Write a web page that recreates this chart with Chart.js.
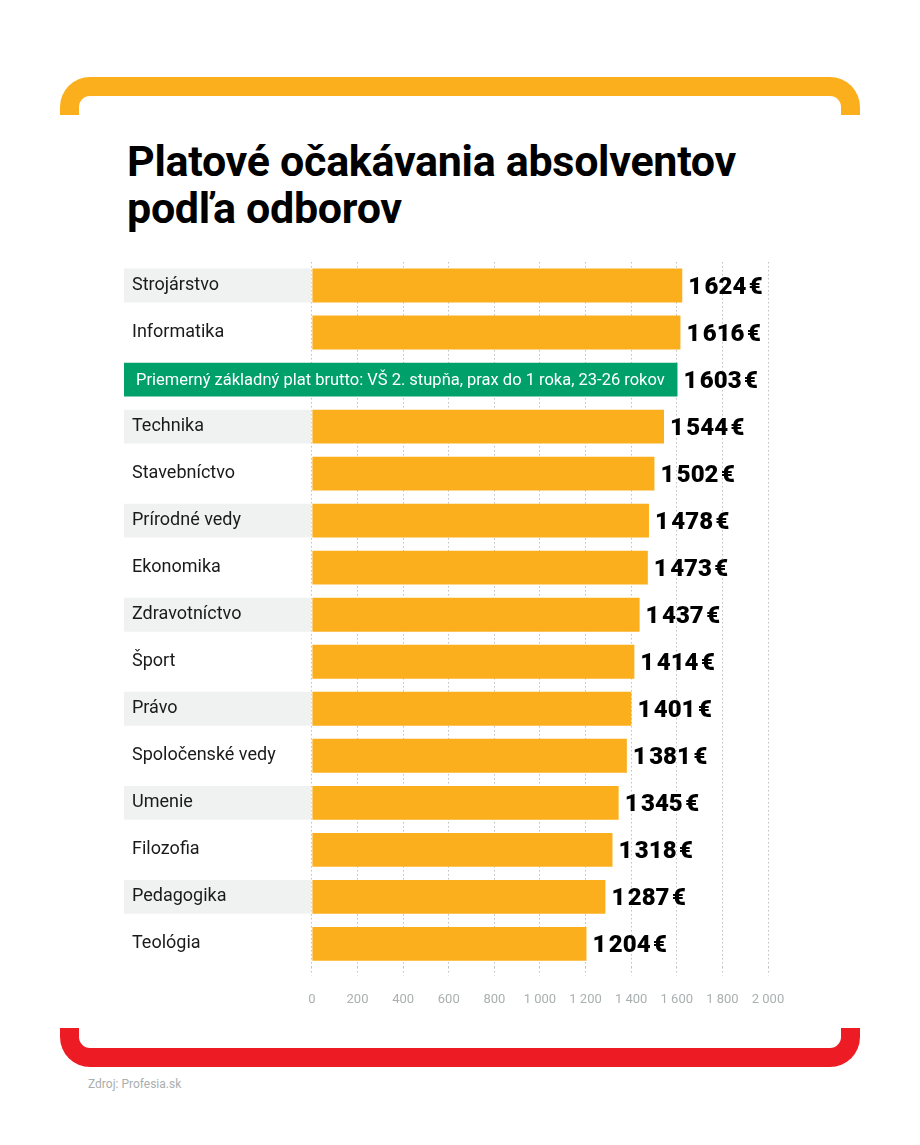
<!DOCTYPE html>
<html lang="sk">
<head>
<meta charset="utf-8">
<script src="https://cdn.jsdelivr.net/npm/chart.js@4.4.1/dist/chart.umd.min.js"></script>
<style>
  html, body { margin: 0; padding: 0; background: #fff; }
  body { width: 920px; height: 1145px; position: relative; overflow: hidden; font-family: Roboto, sans-serif; }
  .ramTop {
    position: absolute; left: 60px; top: 77px; width: 800px; height: 38px;
    border: 19px solid #fcaf1c; border-bottom: 0; border-radius: 30px 30px 0 0; box-sizing: border-box;
  }
  .ramBottom {
    position: absolute; left: 60px; top: 1028px; width: 800px; height: 39px;
    border: 19px solid #ed1c24; border-top: 0; border-radius: 0 0 30px 30px; box-sizing: border-box;
  }
  h1 {
    position: absolute; left: 127px; top: 138px; margin: 0;
    font: 700 43px/47px Roboto, sans-serif; color: #000; letter-spacing: -0.3px;
  }
  .zdroj { position: absolute; left: 88px; top: 1077px; font-size: 12px; color: #a9aeae; }
  #wrap { position: absolute; left: 0; top: 0; width: 920px; height: 1145px; }
</style>
</head>
<body>
<div class="ramTop"></div>
<div class="ramBottom"></div>
<h1>Platové očakávania absolventov<br>podľa odborov</h1>
<div class="zdroj">Zdroj: Profesia.sk</div>
<div id="wrap"><canvas id="graf"></canvas></div>

<script>
const kategorie = [
  "Strojárstvo", "Informatika",
  "Priemerný základný plat brutto: VŠ 2. stupňa, prax do 1 roka, 23-26 rokov",
  "Technika", "Stavebníctvo", "Prírodné vedy", "Ekonomika", "Zdravotníctvo",
  "Šport", "Právo", "Spoločenské vedy", "Umenie", "Filozofia", "Pedagogika", "Teológia"
];
const platy = [1624, 1616, 1603, 1544, 1502, 1478, 1473, 1437, 1414, 1401, 1381, 1345, 1318, 1287, 1204];
const priemerIndex = 2;
const seriRiadky = [0, 3, 5, 7, 9, 11, 13];
const osX = [0, 200, 400, 600, 800, 1000, 1200, 1400, 1600, 1800, 2000];

const zaciatokStlpca = -824; // stĺpec s názvami odborov

const oranzova = "#fcaf1c";
const zelena = "#00a06b";
const seda = "#f0f2f1";

function tisicky(v, medzera) {
  return String(v).replace(/\B(?=(\d{3})+(?!\d))/g, medzera || " ");
}

// pozadie popisov + zelený riadok priemeru
const pasy = kategorie.map((k, i) => {
  if (i === priemerIndex) return [zaciatokStlpca, platy[i]];
  if (seriRiadky.includes(i)) return [zaciatokStlpca, 0];
  return null;
});
const farbyPasov = kategorie.map((k, i) => (i === priemerIndex ? zelena : seda));
const stlpce = platy.map((v, i) => (i === priemerIndex ? null : v));

const popisyHodnot = {
  id: "popisyHodnot",
  afterDatasetsDraw(chart) {
    const { ctx, scales } = chart;
    ctx.save();
    ctx.textBaseline = "middle";
    ctx.textAlign = "left";
    platy.forEach((v, i) => {
      const x = scales.x.getPixelForValue(v);
      const y = scales.y.getPixelForValue(i);
      ctx.font = "900 24px Roboto";
      ctx.fillStyle = "#000";
      ctx.fillText(tisicky(v, "\u200A") + "\u200A€", x + 6, y + 2);
    });
    // text v zelenom pase
    const y = scales.y.getPixelForValue(priemerIndex);
    ctx.font = "16.5px Roboto";
    ctx.fillStyle = "#fff";
    ctx.fillText(kategorie[priemerIndex], scales.x.getPixelForValue(zaciatokStlpca) + 12, y + 1);
    ctx.restore();
  }
};

function kresli() {
  Chart.defaults.font.family = "Roboto";
  new Chart(document.getElementById("graf"), {
    type: "bar",
    data: {
      labels: kategorie,
      datasets: [
        {
          label: "pozadie",
          data: pasy,
          backgroundColor: farbyPasov,
          grouped: false,
          barPercentage: 0.72,
          categoryPercentage: 1,
          order: 2
        },
        {
          label: "Plat",
          data: stlpce,
          backgroundColor: oranzova,
          grouped: false,
          barPercentage: 0.72,
          categoryPercentage: 1,
          order: 1
        }
      ]
    },
    options: {
      indexAxis: "y",
      responsive: true,
      maintainAspectRatio: false,
      animation: false,
      layout: { padding: { left: 108, right: 152, top: 262, bottom: 120 } },
      plugins: {
        legend: { display: false },
        tooltip: { enabled: false },
        title: { display: false }
      },
      scales: {
        x: {
          min: zaciatokStlpca,
          max: 2000,
          afterBuildTicks: (s) => { s.ticks = osX.map((v) => ({ value: v })); },
          border: { display: false, dash: [1.5, 2.5] },
          grid: {
            color: "#bcc1c1",
            lineWidth: 1,
            tickLength: 8,
            tickColor: "#bcc1c1",
            tickBorderDash: [1.5, 2.5]
          },
          ticks: {
            padding: 17,
            color: "#aab0b0",
            font: { size: 13 },
            maxRotation: 0,
            autoSkip: false,
            callback: (v) => tisicky(v)
          }
        },
        y: {
          border: { display: false },
          grid: { display: false, drawTicks: false },
          ticks: {
            z: 1,
            mirror: true,
            padding: 8,
            color: "#1a1a1a",
            font: { size: 18 },
            callback: (v, i) => (i === priemerIndex ? "" : kategorie[i])
          }
        }
      }
    },
    plugins: [popisyHodnot]
  });
}

document.fonts.load("900 24px Roboto")
  .then(() => document.fonts.load("18px Roboto"))
  .then(() => document.fonts.load("700 43px Roboto"))
  .then(kresli, kresli);
</script>
</body>
</html>
